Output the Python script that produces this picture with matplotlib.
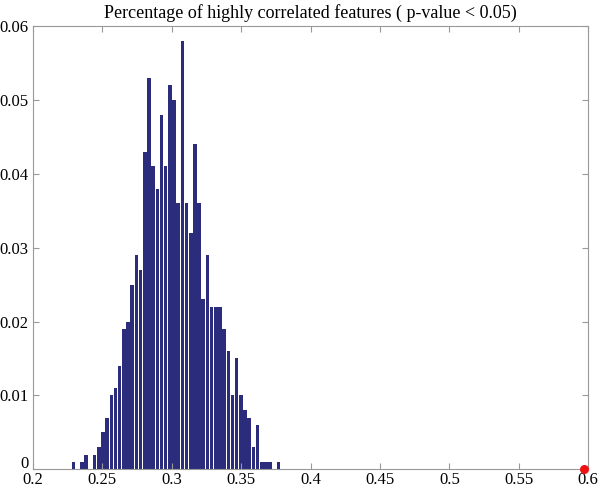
import numpy as np
import matplotlib.transforms as mtransforms
from matplotlib import pyplot as plt

# histogram of 1000 samples, 50 bins (fractions)
bin_first = 0.2294
bin_step = 0.00301
freq = [1, 0, 1, 2, 0, 2, 3, 5, 7, 10,
        11, 14, 19, 20, 25, 29, 27, 43, 53, 41,
        38, 48, 41, 52, 50, 36, 58, 36, 32, 44,
        36, 23, 29, 22, 22, 22, 19, 16, 10, 15,
        10, 8, 7, 3, 6, 1, 1, 1, 0, 1]
observed_x = 0.597
observed_y = 0.0

xticks = [0.2, 0.25, 0.3, 0.35, 0.4, 0.45, 0.5, 0.55, 0.6]
xtick_labels = ["0.2", "0.25", "0.3", "0.35", "0.4", "0.45", "0.5", "0.55", "0.6"]
yticks = [0, 0.01, 0.02, 0.03, 0.04, 0.05, 0.06]
ytick_labels = ["0", "0.01", "0.02", "0.03", "0.04", "0.05", "0.06"]


def main():
    plt.rcParams['font.family'] = ['Liberation Serif', 'DejaVu Serif']
    centers = bin_first + bin_step * np.arange(len(freq))
    heights = np.array(freq) / 1000.0

    fig = plt.figure(figsize=(6, 4.9), dpi=100)
    ax = fig.add_axes([0.0548, 0.0422, 0.9257, 0.9047])
    ax.bar(centers, heights, width=bin_step * 0.85, color='#2b2d7c', linewidth=0)
    ax.plot([observed_x], [observed_y], 'o', color='#ee1111', markersize=5.5,
            clip_on=False, zorder=5)

    ax.set_xlim(0.2, 0.6)
    ax.set_ylim(0, 0.06)
    ax.set_xticks(xticks)
    ax.set_xticklabels(xtick_labels)
    ax.set_yticks(yticks)
    ax.set_yticklabels(ytick_labels)
    ax.tick_params(direction='in', top=True, right=True, length=4,
                   color='#999999', labelsize=12, pad=2)
    ax.tick_params(axis='y', pad=3)
    # nudge the "0" label up a bit so it clears the "0.2" below it
    zero_lbl = ax.get_yticklabels()[0]
    zero_lbl.set_transform(zero_lbl.get_transform() +
                           mtransforms.ScaledTranslation(0, 5 / 72, fig.dpi_scale_trans))
    for s in ax.spines.values():
        s.set_color('#999999')
        s.set_linewidth(0.8)
    ax.set_title("Percentage of highly correlated features ( p-value < 0.05)",
                 fontsize=13, pad=6)
    fig.savefig("out.png", dpi=100)


if __name__ == "__main__":
    main()
